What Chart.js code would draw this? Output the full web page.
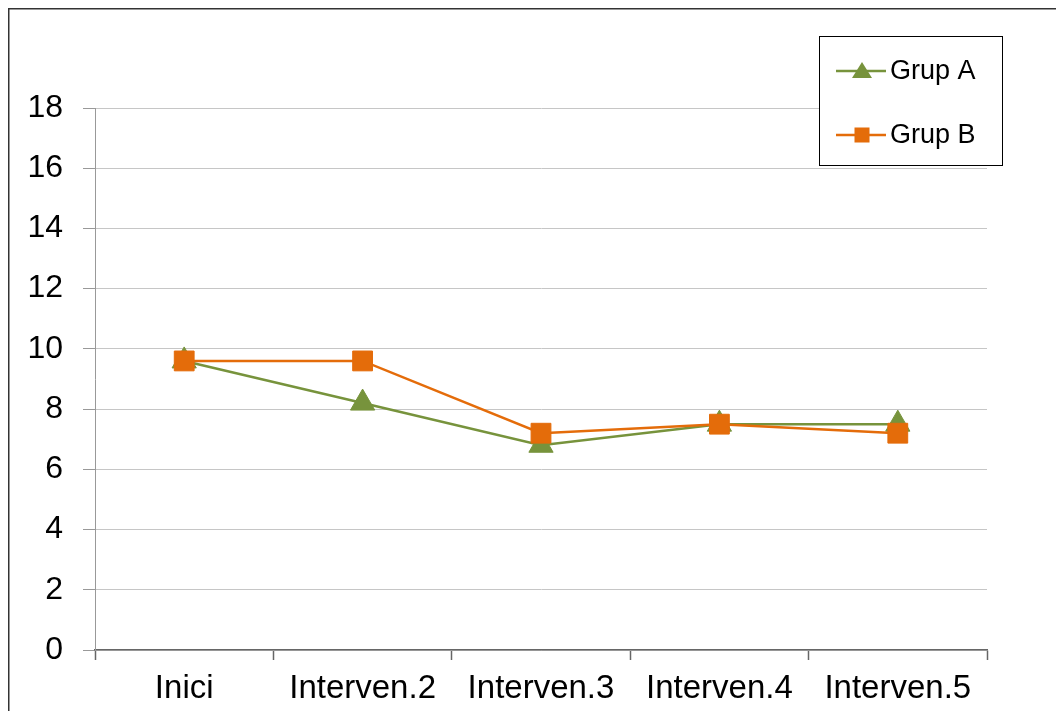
<!DOCTYPE html>
<html>
<head>
<meta charset="utf-8">
<script src="https://cdn.jsdelivr.net/npm/chart.js@4/dist/chart.umd.min.js"></script>
<style>
  html, body { margin: 0; padding: 0; background: #fff; }
  canvas { display: block; }
</style>
</head>
<body>
<canvas id="c" width="1056" height="711"></canvas>
<script>
const categories = ['Inici', 'Interven.2', 'Interven.3', 'Interven.4', 'Interven.5'];
const grupA = [9.6, 8.2, 6.8, 7.5, 7.5];
const grupB = [9.6, 9.6, 7.2, 7.5, 7.2];
const seriesNames = ['Grup A', 'Grup B'];
const yTicks = [0, 2, 4, 6, 8, 10, 12, 14, 16, 18];

const GREEN = '#77933C';
const ORANGE = '#E46C0A';
const FONT = "'Liberation Sans', Arial, sans-serif";

// White page with the outer frame
const framePlugin = {
  id: 'frame',
  beforeDraw(chart) {
    const ctx = chart.ctx;
    ctx.save();
    ctx.fillStyle = '#fff';
    ctx.fillRect(0, 0, chart.width, chart.height);
    ctx.strokeStyle = '#333';
    ctx.lineWidth = 1.5;
    ctx.strokeRect(8.75, 8.75, chart.width + 20, chart.height + 20);
    ctx.restore();
  }
};

// Boxed legend with a line through each marker
const boxLegendPlugin = {
  id: 'boxLegend',
  afterDraw(chart) {
    const ctx = chart.ctx;
    const bx = 819.5, by = 36.5, bw = 183, bh = 129;
    ctx.save();
    ctx.fillStyle = '#fff';
    ctx.fillRect(bx, by, bw, bh);
    ctx.strokeStyle = '#000';
    ctx.lineWidth = 1;
    ctx.strokeRect(bx, by, bw, bh);
    const rows = [71, 135];
    chart.data.datasets.slice().sort((a, b) => a.legendIndex - b.legendIndex).forEach((ds, i) => {
      const y = rows[i];
      ctx.strokeStyle = ds.borderColor;
      ctx.lineWidth = 2.5;
      ctx.beginPath();
      ctx.moveTo(836, y);
      ctx.lineTo(886, y);
      ctx.stroke();
      ctx.fillStyle = ds.borderColor;
      if (ds.pointStyle === 'triangle') {
        ctx.beginPath();
        ctx.moveTo(862, y - 9);
        ctx.lineTo(872, y + 7);
        ctx.lineTo(852, y + 7);
        ctx.closePath();
        ctx.fill();
      } else {
        ctx.fillRect(854.5, y - 7.5, 15, 15);
      }
      ctx.fillStyle = '#000';
      ctx.font = '27px ' + FONT;
      ctx.textBaseline = 'middle';
      ctx.textAlign = 'left';
      ctx.fillText(ds.label, 890, y + 1);
    });
    ctx.restore();
  }
};

new Chart(document.getElementById('c'), {
  type: 'line',
  data: {
    labels: categories,
    datasets: [
      {
        label: seriesNames[0],
        data: grupA,
        legendIndex: 0,
        order: 1,
        borderColor: GREEN,
        backgroundColor: GREEN,
        borderWidth: 2.5,
        pointStyle: 'triangle',
        pointRadius: 14,
        pointBorderWidth: 1,
        pointBackgroundColor: GREEN,
        pointBorderColor: GREEN,
        tension: 0,
        fill: false
      },
      {
        label: seriesNames[1],
        data: grupB,
        legendIndex: 1,
        order: 0,
        borderColor: ORANGE,
        backgroundColor: ORANGE,
        borderWidth: 2.5,
        pointStyle: 'rect',
        pointRadius: 14,
        pointBorderWidth: 1,
        pointBackgroundColor: ORANGE,
        pointBorderColor: ORANGE,
        tension: 0,
        fill: false
      }
    ]
  },
  options: {
    responsive: false,
    animation: false,
    devicePixelRatio: 1,
    layout: { padding: { left: 0, top: 108, right: 69, bottom: 0 } },
    plugins: {
      legend: { display: false },
      tooltip: { enabled: false }
    },
    scales: {
      x: {
        type: 'category',
        offset: true,
        afterFit(scale) { scale.height = 61; },
        grid: {
          offset: true,
          drawOnChartArea: false,
          drawTicks: true,
          tickLength: 10,
          tickColor: '#666',
          tickWidth: 1.5
        },
        border: { display: true, color: '#666', width: 1.5 },
        ticks: {
          color: '#000',
          font: { family: FONT, size: 33 },
          padding: 9,
          maxRotation: 0,
          autoSkip: false
        }
      },
      y: {
        min: 0,
        max: 18,
        afterFit(scale) { scale.width = 95; },
        afterBuildTicks(scale) { scale.ticks = yTicks.map(v => ({ value: v })); },
        grid: {
          color: '#c6c6c6',
          lineWidth: 1,
          drawTicks: true,
          tickLength: 12,
          tickColor: '#999'
        },
        border: { display: true, color: '#999', width: 1 },
        ticks: {
          color: '#000',
          font: { family: FONT, size: 32 },
          padding: 20
        }
      }
    }
  },
  plugins: [framePlugin, boxLegendPlugin]
});
</script>
</body>
</html>
